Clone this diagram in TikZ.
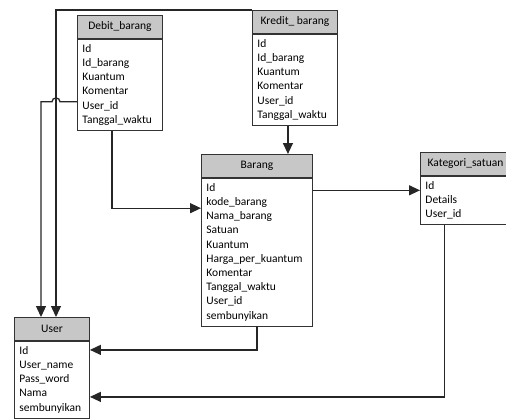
\documentclass[tikz,border=0pt]{standalone}
\usepackage{fontspec}
\setmainfont{Carlito}
\usetikzlibrary{arrows.meta,positioning,calc}

\begin{document}
\begin{tikzpicture}[
  x=1pt, y=-1pt,
  font=\fontsize{11.5}{14.2}\selectfont,
  head/.style={rectangle, draw=black!80, line width=0.9pt, fill=black!22, align=center, minimum height=23pt, inner sep=0pt},
  body/.style={rectangle, draw=black!80, line width=0.9pt, fill=white, align=left, inner xsep=5pt, inner ysep=5pt},
  arrow/.style={-{Triangle[length=11pt,width=10pt]}, line width=1.3pt, black!85}
]
\useasboundingbox (0,0) rectangle (506,418);

% tables
\node[head, minimum width=85pt, anchor=north west] (debithead) at (77,15) {Debit\_barang};
\node[body, below=0pt of debithead, minimum width=85pt, text width=75pt] (debitbody) {Id\\Id\_barang\\Kuantum\\Komentar\\User\_id\\Tanggal\_waktu};

\node[head, minimum width=85pt, anchor=north west] (kredithead) at (252,10) {Kredit\_ barang};
\node[body, below=0pt of kredithead, minimum width=85pt, text width=75pt] (kreditbody) {Id\\Id\_barang\\Kuantum\\Komentar\\User\_id\\Tanggal\_waktu};

\node[head, minimum width=111pt, anchor=north west] (baranghead) at (201,154) {Barang};
\node[body, below=0pt of baranghead, minimum width=111pt, text width=101pt] (barangbody) {Id\\kode\_barang\\Nama\_barang\\Satuan\\Kuantum\\Harga\_per\_kuantum\\Komentar\\Tanggal\_waktu\\User\_id\\sembunyikan};

\node[head, minimum width=90pt, anchor=north west] (kategorihead) at (420,152) {Kategori\_satuan};
\node[body, below=0pt of kategorihead, minimum width=90pt, text width=80pt] (kategoribody) {Id\\Details\\User\_id};

\node[head, minimum width=75pt, anchor=north west] (userhead) at (14,317) {User};
\node[body, below=0pt of userhead, minimum width=75pt, text width=65pt] (userbody) {Id\\User\_name\\Pass\_word\\Nama\\sembunyikan};

% connector ends
\coordinate (ua) at ([xshift=42pt]userhead.north west);
\coordinate (ub) at ([xshift=27pt]userhead.north west);
\coordinate (debituser) at ([yshift=-17pt]debitbody.west);
\coordinate (barangin) at ([yshift=44pt]barangbody.west);
\coordinate (kategoriin) at ([yshift=10pt]kategoribody.west);
\coordinate (kreditout) at ([xshift=-7pt]kreditbody.south);
\coordinate (kategoriout) at ([xshift=-21pt]kategoribody.south);
\coordinate (userin1) at ([yshift=-9pt]userbody.north east);
\coordinate (userin2) at ([yshift=-56pt]userbody.north east);

% relations
\draw[arrow] (kredithead.north west) -- (kredithead.north west -| ua) -- (ua);
\draw[arrow] (debituser) -- ([xshift=4pt]debituser -| ua) arc[start angle=0, end angle=180, radius=4pt] -- (debituser -| ub) -- (ub);
\draw[arrow] ([xshift=-8pt]debitbody.south) |- (barangin);
\draw[arrow] (kreditout) -- (kreditout |- baranghead.north);
\draw[arrow] (kategoriin -| barangbody.east) -- (kategoriin);
\draw[arrow] (barangbody.south) |- (userin1);
\draw[arrow] (kategoriout) |- (userin2);

\end{tikzpicture}
\end{document}
